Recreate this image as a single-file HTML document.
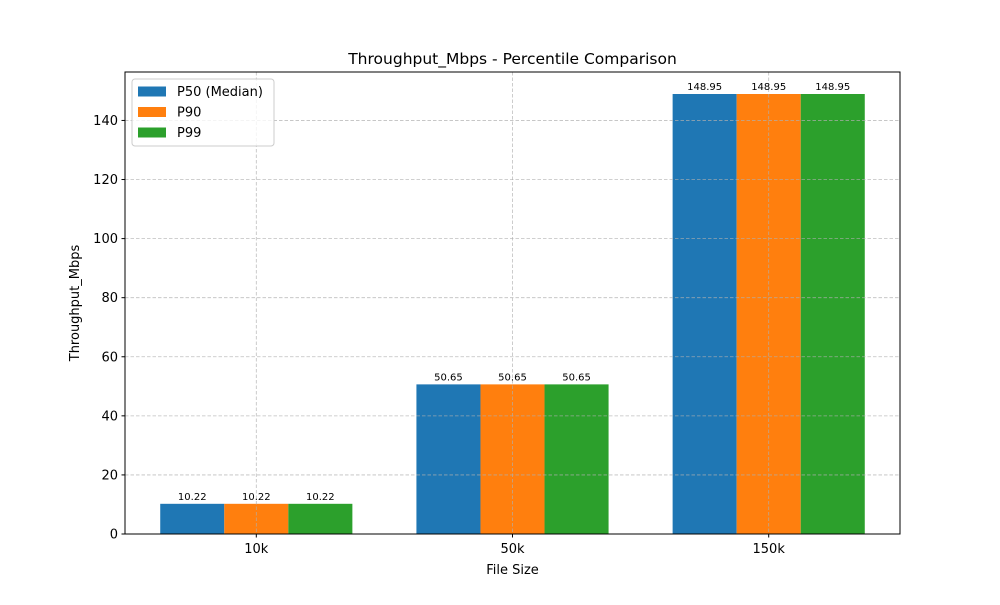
<!DOCTYPE html>
<html><head><meta charset="utf-8"><style>
body{margin:0;background:#fff;font-family:"Liberation Sans","DejaVu Sans",sans-serif}
svg text{font-family:"DejaVu Sans","Liberation Sans",sans-serif}
</style></head><body>
<svg id="chart" width="1000" height="600" viewBox="0 0 1000 600" xmlns="http://www.w3.org/2000/svg">
<rect width="1000" height="600" fill="#fff"/>
<g id="bars"></g><g id="grid"></g><g id="labels"></g><g id="axes"></g>
</svg>
<script>
const categories = ["10k","50k","150k"];
const seriesNames = ["P50 (Median)","P90","P99"];
const p50 = [10.22,50.65,148.95];
const p90 = [10.22,50.65,148.95];
const p99 = [10.22,50.65,148.95];
const yTicks = [0,20,40,60,80,100,120,140];
const colors = ["#1f77b4","#ff7f0e","#2ca02c"];
const NS="http://www.w3.org/2000/svg";
const L=125,R=900,T=72,B=534;
const series=[p50,p90,p99];
const ymax=Math.max(...series.flat())*1.05;
const xmin=-0.5125,xmax=categories.length-1+0.5125;
const xs=v=>L+(v-xmin)/(xmax-xmin)*(R-L);
const ys=v=>B-v/ymax*(B-T);
function mk(tag,attrs,parent,text){const e=document.createElementNS(NS,tag);for(const k in attrs)e.setAttribute(k,attrs[k]);if(text!==undefined)e.textContent=text;document.getElementById(parent).appendChild(e);return e;}
// grid
yTicks.forEach(t=>{const g=mk('line',{x1:L,x2:R,y1:ys(t),y2:ys(t),stroke:'#b0b0b0','stroke-width':0.8,'stroke-dasharray':'3.5,2',opacity:0.8},'grid');

});
categories.forEach((c,i)=>{const g=mk('line',{x1:xs(i),x2:xs(i),y1:T,y2:B,stroke:'#b0b0b0','stroke-width':0.8,'stroke-dasharray':'3.5,2',opacity:0.8},'grid');

});
// bars
const w=0.25;
series.forEach((s,si)=>{s.forEach((v,i)=>{const x0=xs(i+(si-1)*w-w/2),x1=xs(i+(si-1)*w+w/2);
const r=mk('rect',{x:x0,y:ys(v),width:x1-x0,height:B-ys(v),fill:colors[si]},'bars');


const t=mk('text',{x:(x0+x1)/2,y:ys(v)-4,'text-anchor':'middle','font-size':10,fill:'#000'},'labels',v.toFixed(2));

});});
// axes
const fr=mk('rect',{x:L,y:T,width:R-L,height:B-T,fill:'none',stroke:'#000','stroke-width':1},'axes');


yTicks.forEach(t=>{mk('line',{x1:L-3.5,x2:L,y1:ys(t),y2:ys(t),stroke:'#000'},'axes');
const tx=mk('text',{x:L-7,y:ys(t)+4.5,'text-anchor':'end','font-size':13},'axes',t);

});
categories.forEach((c,i)=>{mk('line',{x1:xs(i),x2:xs(i),y1:B,y2:B+3.5,stroke:'#000'},'axes');
const tx=mk('text',{x:xs(i),y:B+19,'text-anchor':'middle','font-size':13},'axes',c);

});
const xt=mk('text',{x:(L+R)/2,y:574,'text-anchor':'middle','font-size':13},'axes','File Size');


const yt=mk('text',{x:0,y:0,'text-anchor':'middle','font-size':13,transform:`translate(79,${(T+B)/2}) rotate(-90)`},'axes','Throughput_Mbps');


const tt=mk('text',{x:(L+R)/2,y:64,'text-anchor':'middle','font-size':15.5},'axes','Throughput_Mbps - Percentile Comparison');


// legend
const lg=mk('rect',{x:132,y:79,width:142,height:67,rx:3,fill:'#fff','fill-opacity':0.8,stroke:'#ccc'},'axes');


seriesNames.forEach((n,i)=>{const y=91+i*20.5;
const sw=mk('rect',{x:138,y:y-4.5,width:28,height:10,fill:colors[i]},'axes');


const t=mk('text',{x:177,y:y+5,'font-size':13},'axes',n);

});
</script>
</body></html>
